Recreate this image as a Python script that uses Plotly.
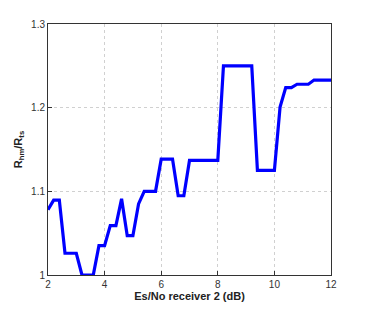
import plotly.graph_objects as go

es_no = [2.0, 2.2, 2.4, 2.6, 2.8, 3.0, 3.2, 3.4, 3.6, 3.8, 4.0, 4.2, 4.4, 4.6, 4.8, 5.0,
         5.2, 5.4, 5.6, 5.8, 6.0, 6.2, 6.4, 6.6, 6.8, 7.0, 7.2, 7.4, 7.6, 7.8, 8.0,
         8.2, 8.4, 8.6, 8.8, 9.0, 9.2, 9.4, 9.6, 9.8, 10.0, 10.2, 10.4, 10.6, 10.8,
         11.0, 11.2, 11.4, 11.6, 11.8, 12.0]
ratio = [1.078, 1.0895, 1.0895, 1.026, 1.026, 1.026, 1.0, 1.0, 1.0, 1.035, 1.035,
         1.059, 1.059, 1.091, 1.047, 1.047, 1.085, 1.100, 1.100, 1.100, 1.1385, 1.1385,
         1.1385, 1.0947, 1.0947, 1.137, 1.137, 1.137, 1.137, 1.137, 1.137,
         1.25, 1.25, 1.25, 1.25, 1.25, 1.25, 1.125, 1.125, 1.125, 1.125, 1.2006,
         1.224, 1.224, 1.228, 1.228, 1.228, 1.233, 1.233, 1.233, 1.233]

x_ticks = [2, 4, 6, 8, 10, 12]
x_ticktext = ["2", "4", "6", "8", "10", "12"]
y_ticks = [1.0, 1.1, 1.2, 1.3]
y_ticktext = ["1", "1.1", "1.2", "1.3"]

fig = go.Figure()
fig.add_trace(go.Scatter(x=es_no, y=ratio, mode="lines",
                         line=dict(color="#0000ff", width=3.2), showlegend=False))

axis_common = dict(
    showline=True, linecolor="#333333", linewidth=1, mirror=True,
    ticks="inside", ticklen=4, tickcolor="#333333",
    showgrid=True, gridcolor="#d0d0d0", griddash="dot", gridwidth=1,
    zeroline=False, automargin=False,
    tickfont=dict(family="Liberation Sans", size=10, color="#333333"),
)

# the page body has an 8px default margin, so the figure is sized to fit the window
fig.update_layout(
    width=358, height=302,
    margin=dict(l=40, r=35, t=16, b=35),
    paper_bgcolor="white", plot_bgcolor="white",
    xaxis=dict(range=[2, 12], tickvals=x_ticks, ticktext=x_ticktext,
               title=dict(text="<b>Es/No receiver 2 (dB)</b>", standoff=2,
                          font=dict(family="Liberation Sans", size=11, color="#222222")),
               **axis_common),
    yaxis=dict(range=[1.0, 1.3], tickvals=y_ticks, ticktext=y_ticktext,
               title=dict(text="<b>R<sub>hm</sub>/R<sub>ts</sub></b>", standoff=6,
                          font=dict(family="Liberation Sans", size=11, color="#222222")),
               **axis_common),
)

fig.write_html("out.html")
